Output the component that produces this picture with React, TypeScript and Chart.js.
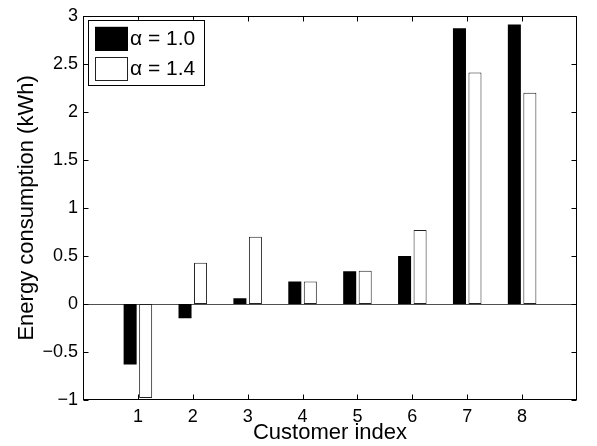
import { useEffect, useRef } from 'react';
import { Chart, registerables } from 'chart.js';

Chart.register(...registerables);

const customers = [1, 2, 3, 4, 5, 6, 7, 8];
const alpha10 = [-0.63, -0.15, 0.06, 0.235, 0.34, 0.5, 2.87, 2.91];
const alpha14 = [-0.98, 0.43, 0.7, 0.235, 0.345, 0.77, 2.41, 2.2];
const seriesLabels = ['α = 1.0', 'α = 1.4'];
const yTicks = [-1, -0.5, 0, 0.5, 1, 1.5, 2, 2.5, 3];
const xMin = 0;
const xMax = 9;
const yMin = -1;
const yMax = 3;

const FONT = '"Liberation Sans", Arial, Helvetica, sans-serif';

const fmtY = (v: number) => (v < 0 ? '\u2212' + String(Math.abs(v)) : String(v));

const boxPlugin = {
  id: 'matlabBox',
  beforeDatasetsDraw(chart: any) {
    const { ctx, chartArea: a, scales } = chart;
    const y0 = Math.round(scales.y.getPixelForValue(0)) + 0.5;
    ctx.save();
    ctx.strokeStyle = '#505050';
    ctx.lineWidth = 1;
    ctx.beginPath();
    ctx.moveTo(a.left, y0);
    ctx.lineTo(a.right, y0);
    ctx.stroke();
    ctx.restore();
  },
  afterDraw(chart: any) {
    const { ctx, chartArea: a, scales } = chart;
    const L = Math.round(a.left) + 0.5;
    const R = Math.round(a.right) - 0.5;
    const T = Math.round(a.top) + 0.5;
    const B = Math.round(a.bottom) - 0.5;
    ctx.save();
    ctx.strokeStyle = '#000';
    ctx.lineWidth = 1;
    ctx.strokeRect(L, T, R - L, B - T);
    const tl = 5;
    ctx.beginPath();
    customers.forEach((c) => {
      const px = Math.round(scales.x.getPixelForValue(c)) + 0.5;
      ctx.moveTo(px, B);
      ctx.lineTo(px, B - tl);
      ctx.moveTo(px, T);
      ctx.lineTo(px, T + tl);
    });
    yTicks.forEach((v) => {
      const py = Math.round(scales.y.getPixelForValue(v)) + 0.5;
      ctx.moveTo(L, py);
      ctx.lineTo(L + tl, py);
      ctx.moveTo(R, py);
      ctx.lineTo(R - tl, py);
    });
    ctx.stroke();

    // legend
    const lx = a.left + 5;
    const ly = a.top + 4;
    const lw = 116;
    const lh = 65;
    ctx.fillStyle = '#fff';
    ctx.fillRect(lx, ly, lw, lh);
    ctx.strokeStyle = '#000';
    ctx.strokeRect(Math.round(lx) + 0.5, Math.round(ly) + 0.5, lw, lh);
    chart.data.datasets.forEach((ds: any, i: number) => {
      const sy = ly + 7 + i * 30;
      ctx.fillStyle = ds.backgroundColor;
      ctx.fillRect(lx + 7, sy, 33, 24);
      ctx.strokeStyle = ds.borderColor;
      ctx.strokeRect(Math.round(lx + 7) + 0.5, Math.round(sy) + 0.5, 32, 23);
      ctx.fillStyle = '#000';
      ctx.textBaseline = 'middle';
      ctx.textAlign = 'left';
      ctx.font = '21px ' + FONT;
      ctx.fillText(ds.label, lx + 42, sy + 12);
    });
    ctx.restore();
  },
};

export default function App() {
  const ref = useRef<HTMLCanvasElement | null>(null);
  useEffect(() => {
    if (!ref.current) return;
    const chart = new Chart(ref.current, {
      type: 'bar',
      data: {
        datasets: [
          {
            label: seriesLabels[0],
            data: customers.map((c, i) => ({ x: c, y: alpha10[i] })),
            backgroundColor: '#000000',
            borderColor: '#000000',
            borderWidth: 0,
            borderSkipped: false,
            categoryPercentage: 0.565,
            barPercentage: 0.84,
          },
          {
            label: seriesLabels[1],
            data: customers.map((c, i) => ({ x: c, y: alpha14[i] })),
            backgroundColor: '#ffffff',
            borderColor: '#222222',
            borderWidth: 1,
            borderSkipped: false,
            categoryPercentage: 0.565,
            barPercentage: 0.84,
          },
        ],
      },
      options: {
        animation: false,
        responsive: false,
        devicePixelRatio: 1,
        layout: { padding: { top: 10, right: 20, left: 0, bottom: 0 } },
        plugins: { legend: { display: false }, tooltip: { enabled: false } },
        scales: {
          x: {
            type: 'linear',
            offset: false,
            min: xMin,
            max: xMax,
            grid: { display: false, drawTicks: false },
            border: { display: false },
            ticks: {
              stepSize: 1,
              autoSkip: false,
              padding: 6,
              color: '#000',
              font: { family: FONT, size: 18 },
              callback: (v: any) => (customers.includes(Number(v)) ? String(v) : ''),
            },
            title: {
              display: true,
              text: 'Customer index',
              color: '#000',
              font: { family: FONT, size: 22 },
              padding: { top: 0, bottom: 0 },
            },
            afterFit: (s: any) => {
              s.height = 46;
            },
          },
          y: {
            type: 'linear',
            min: yMin,
            max: yMax,
            grid: { display: false, drawTicks: false },
            border: { display: false },
            afterBuildTicks: (s: any) => {
              s.ticks = yTicks.map((v) => ({ value: v }));
            },
            ticks: {
              padding: 5,
              color: '#000',
              font: { family: FONT, size: 18 },
              callback: (v: any) => fmtY(Number(v)),
            },
            title: {
              display: true,
              text: 'Energy consumption (kWh)',
              color: '#000',
              font: { family: FONT, size: 22 },
              padding: { top: 14, bottom: 0 },
            },
            afterFit: (s: any) => {
              s.width = 83;
            },
          },
        },
      },
      plugins: [boxPlugin],
    } as any);
    return () => chart.destroy();
  }, []);
  return (
    <div style={{ position: 'fixed', left: 0, top: 0, width: 597, height: 446, background: '#fff' }}>
      <canvas ref={ref} width={597} height={446} />
    </div>
  );
}
